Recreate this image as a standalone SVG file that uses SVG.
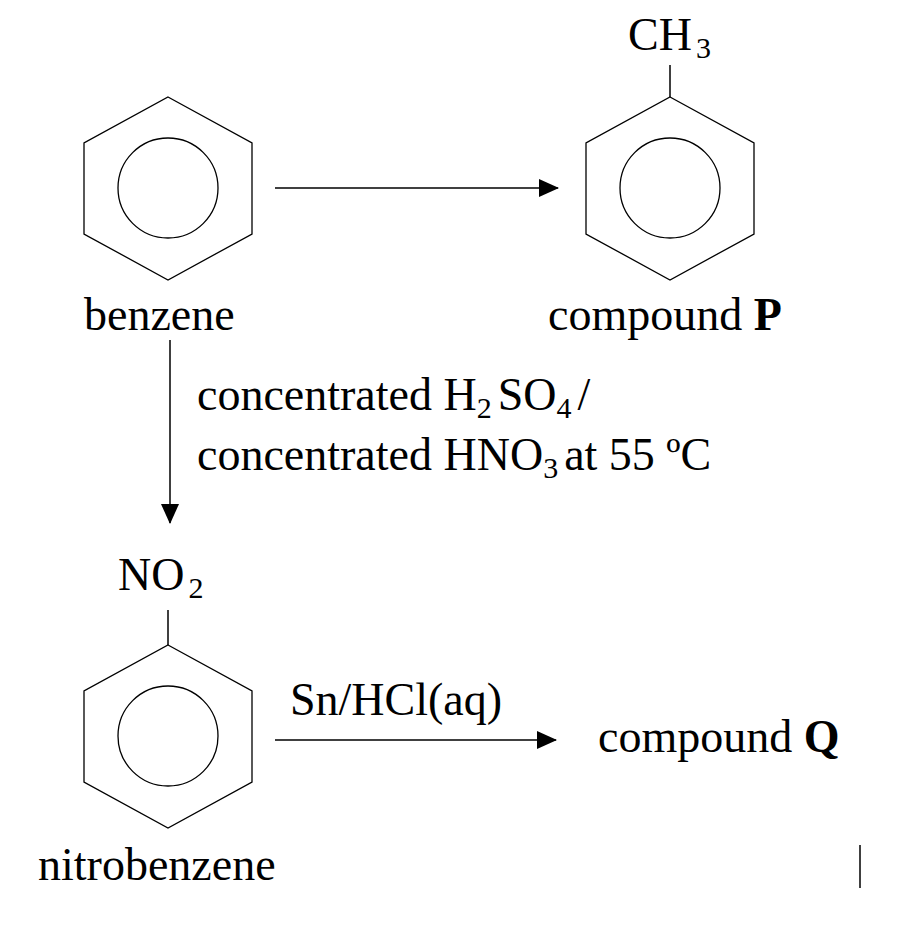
<svg xmlns="http://www.w3.org/2000/svg" width="899" height="940" viewBox="0 0 899 940">
<defs>
<style>
.b{fill:none;stroke:#000;stroke-width:1.3}
.l{stroke:#000;stroke-width:1.5}
text{font-family:"Liberation Serif",serif;font-size:46px;fill:#000}
.s{font-size:30px}
</style>
<marker id="a" markerWidth="20" markerHeight="18" refX="19" refY="9" orient="auto" markerUnits="userSpaceOnUse"><path d="M0,0 L20,9 L0,18 Z" fill="#000"/></marker>
<g id="ring"><polygon class="b" points="0,-91 84,-45 84,46 0,92 -84,46 -84,-45"/><circle class="b" cx="0" cy="0" r="50"/></g>
</defs>
<g id="benzene"><use href="#ring" x="168" y="188"/><text x="84" y="330">benzene</text></g>
<g id="compoundP"><use href="#ring" x="670" y="188"/><line class="l" x1="670" y1="97" x2="670" y2="65"/><text x="628" y="50">CH<tspan class="s" dx="4" dy="8">3</tspan></text><text x="548" y="330">compound <tspan font-weight="bold">P</tspan></text></g>
<g id="nitrobenzene"><use href="#ring" x="168" y="736"/><line class="l" x1="168" y1="645" x2="168" y2="610"/><text x="118" y="590">NO<tspan class="s" dx="4" dy="8">2</tspan></text><text x="38" y="880">nitrobenzene</text></g>
<g id="compoundQ"><text x="598" y="752">compound <tspan font-weight="bold">Q</tspan></text></g>
<g id="connectors">
<line class="l" x1="275" y1="188" x2="558" y2="188" marker-end="url(#a)"/>
<line class="l" x1="170" y1="340" x2="170" y2="523" marker-end="url(#a)"/>
<line class="l" x1="275" y1="740" x2="556" y2="740" marker-end="url(#a)"/>
<line class="l" x1="860" y1="845" x2="860" y2="888"/>
</g>
<g id="labels">
<text x="197" y="410">concentrated H<tspan class="s" dy="8">2</tspan><tspan dx="6" dy="-8">SO</tspan><tspan class="s" dy="8">4</tspan><tspan dx="6" dy="-8">/</tspan></text>
<text x="197" y="470">concentrated HNO<tspan class="s" dy="8">3</tspan><tspan dx="6" dy="-8">at 55 ºC</tspan></text>
<text x="290" y="715">Sn/HCl(aq)</text>
</g>
</svg>
